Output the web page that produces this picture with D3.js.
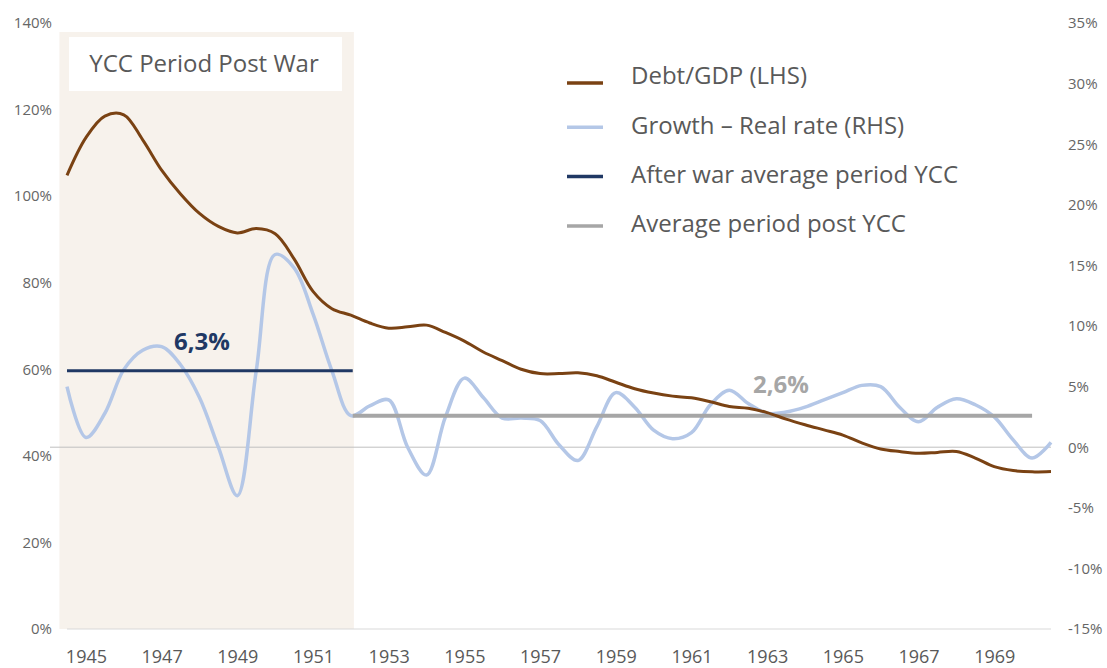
<!DOCTYPE html>
<html>
<head>
<meta charset="utf-8">
<script src="https://cdn.jsdelivr.net/npm/d3@7"></script>
<style>
  body { margin: 0; background: #fff; }
  text { font-family: "Open Sans", sans-serif; }
</style>
</head>
<body>
<div class="svgcontainer"></div>
<script>
// half-year sample points (x position in years)
const periods = [1945, 1945.5, 1946, 1946.5, 1947, 1947.5, 1948, 1948.5, 1949, 1949.5,
  1950, 1950.5, 1951, 1951.5, 1952, 1952.5, 1953, 1953.5, 1954, 1954.5,
  1955, 1955.5, 1956, 1956.5, 1957, 1957.5, 1958, 1958.5, 1959, 1959.5,
  1960, 1960.5, 1961, 1961.5, 1962, 1962.5, 1963, 1963.5, 1964, 1964.5,
  1965, 1965.5, 1966, 1966.5, 1967, 1967.5, 1968, 1968.5, 1969, 1969.5,
  1970, 1970.5, 1971];

// Debt/GDP, % (left axis)
const debtGdp = [104.8, 113.5, 118.5, 118.8, 113, 106, 100.5, 96, 93, 91.5,
  92.5, 91.3, 85.5, 78, 74, 72.5, 70.7, 69.5, 69.8, 70.2,
  68.5, 66.5, 64, 62, 60, 59, 59, 59.2, 58.5, 57,
  55.5, 54.5, 53.8, 53.4, 52.5, 51.4, 51, 50, 48.5, 47.2,
  46, 44.8, 43, 41.6, 41, 40.6, 40.8, 41, 39.5, 37.5,
  36.6, 36.3, 36.4];

// Growth - real rate, % (right axis)
const growthReal = [5.0, 0.8, 2.8, 6.4, 8.0, 8.3, 6.8, 4.1, 0.0, -4.0,
  6.3, 15.9, 14.8, 11.0, 6.3, 2.6, 3.4, 3.9, 0.0, -2.3,
  2.5, 5.7, 4.1, 2.4, 2.4, 2.2, 0.2, -1.1, 1.7, 4.5,
  3.3, 1.4, 0.7, 1.2, 3.5, 4.7, 3.6, 2.8, 2.9, 3.3,
  3.9, 4.5, 5.1, 5.0, 3.3, 2.1, 3.3, 4.0, 3.5, 2.5,
  0.6, -0.9, 0.4];

// period averages (right axis)
const yccPeriod = [1945, 1952.55];
const postPeriod = [1952.55, 1970.5];
const yccAverage = 6.3;
const postAverage = 2.6;
const shadePeriod = [1944.8, 1952.58];

const yearLabels = [1945, 1947, 1949, 1951, 1953, 1955, 1957, 1959, 1961, 1963, 1965, 1967, 1969];
const leftTicks = [0, 20, 40, 60, 80, 100, 120, 140];
const rightTicks = [-15, -10, -5, 0, 5, 10, 15, 20, 25, 30, 35];

const legendLabels = ['Debt/GDP (LHS)', 'Growth \u2013 Real rate (RHS)', 'After war average period YCC', 'Average period post YCC'];
const legendColors = ['#7a4213', '#b4c7e7', '#203864', '#a6a6a6'];

const width = 1107, height = 668;
const plot = { left: 67, right: 1051, top: 23, bottom: 629 };

const x = d3.scaleLinear().domain([1945, 1971]).range([plot.left, plot.right]);
const yLeft = d3.scaleLinear().domain([0, 140]).range([plot.bottom, plot.top]);
const yRight = d3.scaleLinear().domain([-15, 35]).range([plot.bottom, plot.top]);

const svg = d3.select('.svgcontainer')
  .append('svg')
  .attr('width', width)
  .attr('height', height);

// shaded YCC period
svg.append('rect')
  .attr('x', x(shadePeriod[0]))
  .attr('y', 32)
  .attr('width', x(shadePeriod[1]) - x(shadePeriod[0]))
  .attr('height', plot.bottom - 32)
  .attr('fill', '#f7f2ec');

// box title
svg.append('rect')
  .attr('x', 69).attr('y', 37)
  .attr('width', 273).attr('height', 54)
  .attr('fill', '#fff');
svg.append('text')
  .attr('x', 204).attr('y', 64)
  .attr('dy', '0.35em')
  .attr('text-anchor', 'middle')
  .attr('font-size', 24)
  .attr('fill', '#595959')
  .text('YCC Period Post War');

// zero line of the right axis and bottom axis line
svg.append('line')
  .attr('x1', 50).attr('x2', plot.right)
  .attr('y1', yRight(0)).attr('y2', yRight(0))
  .attr('stroke', '#bfbfbf').attr('stroke-width', 1);
svg.append('line')
  .attr('x1', plot.left).attr('x2', plot.right)
  .attr('y1', plot.bottom).attr('y2', plot.bottom)
  .attr('stroke', '#d9d9d9').attr('stroke-width', 1);

// axes
const axisLeft = svg.append('g')
  .attr('transform', `translate(${plot.left},0)`)
  .call(d3.axisLeft(yLeft).tickValues(leftTicks).tickFormat(d => d + '%').tickSize(0).tickPadding(15));
const axisRight = svg.append('g')
  .attr('transform', `translate(${plot.right},0)`)
  .call(d3.axisRight(yRight).tickValues(rightTicks).tickFormat(d => d + '%').tickSize(0).tickPadding(17));
const axisBottom = svg.append('g')
  .attr('transform', `translate(0,${plot.bottom})`)
  .call(d3.axisBottom(x).tickValues(yearLabels.map(d => d + 0.5)).tickFormat(d => String(Math.floor(d))).tickSize(0).tickPadding(21));

[axisLeft, axisRight, axisBottom].forEach(g => {
  g.select('.domain').remove();
  g.selectAll('text').attr('fill', '#666666').attr('font-family', '"Open Sans", sans-serif');
});
axisLeft.selectAll('text').attr('font-size', 15);
axisRight.selectAll('text').attr('font-size', 15);
axisBottom.selectAll('text').attr('font-size', 18).attr('fill', '#595959');

// lines
const points = periods.map((p, i) => ({ p, debt: debtGdp[i], growth: growthReal[i] }));

svg.append('path')
  .datum(points)
  .attr('fill', 'none')
  .attr('stroke', legendColors[1])
  .attr('stroke-width', 3.5)
  .attr('d', d3.line().x(d => x(d.p)).y(d => yRight(d.growth)).curve(d3.curveCatmullRom.alpha(0.5)));

svg.append('line')
  .attr('x1', x(yccPeriod[0])).attr('x2', x(yccPeriod[1]))
  .attr('y1', yRight(yccAverage)).attr('y2', yRight(yccAverage))
  .attr('stroke', legendColors[2]).attr('stroke-width', 3);

svg.append('line')
  .attr('x1', x(postPeriod[0])).attr('x2', x(postPeriod[1]))
  .attr('y1', yRight(postAverage)).attr('y2', yRight(postAverage))
  .attr('stroke', legendColors[3]).attr('stroke-width', 4);

svg.append('path')
  .datum(points)
  .attr('fill', 'none')
  .attr('stroke', legendColors[0])
  .attr('stroke-width', 3)
  .attr('d', d3.line().x(d => x(d.p)).y(d => yLeft(d.debt)).curve(d3.curveCatmullRom.alpha(0.5)));

// average labels
svg.append('text')
  .attr('x', 202).attr('y', 342).attr('dy', '0.35em')
  .attr('text-anchor', 'middle')
  .attr('font-size', 24).attr('font-weight', 'bold')
  .attr('fill', '#203864')
  .text('6,3%');
svg.append('text')
  .attr('x', 781).attr('y', 385).attr('dy', '0.35em')
  .attr('text-anchor', 'middle')
  .attr('font-size', 24).attr('font-weight', 'bold')
  .attr('fill', '#a6a6a6')
  .text('2,6%');

// legend
const legend = svg.selectAll('.legend')
  .data(legendLabels)
  .enter()
  .append('g')
  .attr('class', 'legend')
  .attr('transform', (d, i) => `translate(567, ${76 + i * 49.3})`);

legend.append('line')
  .attr('x1', 0).attr('x2', 36)
  .attr('y1', (d, i) => i === 0 ? 7 : 2).attr('y2', (d, i) => i === 0 ? 7 : 2)
  .attr('stroke', (d, i) => legendColors[i])
  .attr('stroke-width', 3.5);

legend.append('text')
  .attr('x', 64)
  .attr('dy', '0.35em')
  .attr('font-size', 24)
  .attr('fill', '#595959')
  .text(d => d);
</script>
</body>
</html>
